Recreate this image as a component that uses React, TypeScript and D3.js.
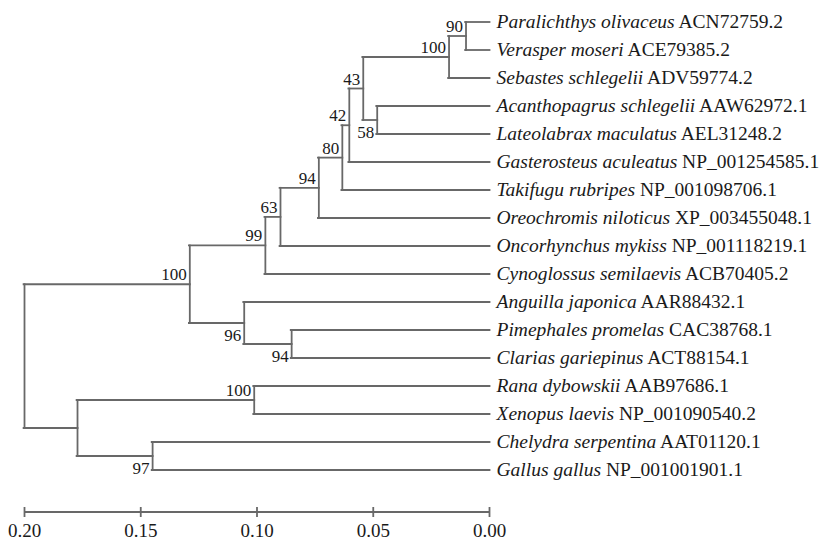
import * as d3 from "d3";
import { useMemo } from "react";

// leaf labels, top to bottom
const species = [
  "Paralichthys olivaceus",
  "Verasper moseri",
  "Sebastes schlegelii",
  "Acanthopagrus schlegelii",
  "Lateolabrax maculatus",
  "Gasterosteus aculeatus",
  "Takifugu rubripes",
  "Oreochromis niloticus",
  "Oncorhynchus mykiss",
  "Cynoglossus semilaevis",
  "Anguilla japonica",
  "Pimephales promelas",
  "Clarias gariepinus",
  "Rana dybowskii",
  "Xenopus laevis",
  "Chelydra serpentina",
  "Gallus gallus",
];
const accessions = [
  "ACN72759.2",
  "ACE79385.2",
  "ADV59774.2",
  "AAW62972.1",
  "AEL31248.2",
  "NP_001254585.1",
  "NP_001098706.1",
  "XP_003455048.1",
  "NP_001118219.1",
  "ACB70405.2",
  "AAR88432.1",
  "CAC38768.1",
  "ACT88154.1",
  "AAB97686.1",
  "NP_001090540.2",
  "AAT01120.1",
  "NP_001001901.1",
];

// internal nodes: L = leaf index, N = node index
const nodeChildren = [
  ["L0", "L1"],
  ["N0", "L2"],
  ["L3", "L4"],
  ["N1", "N2"],
  ["N3", "L5"],
  ["N4", "L6"],
  ["N5", "L7"],
  ["N6", "L8"],
  ["N7", "L9"],
  ["L11", "L12"],
  ["L10", "N9"],
  ["N8", "N10"],
  ["L13", "L14"],
  ["L15", "L16"],
  ["N12", "N13"],
  ["N11", "N14"],
];
// branch heights (distance from tips)
const nodeHeights = [
  0.0101, 0.0174, 0.0483, 0.0543, 0.0603, 0.0633, 0.0734, 0.0899, 0.0964,
  0.0851, 0.1055, 0.1289, 0.1012, 0.1449, 0.1772, 0.2,
];
// bootstrap values
const support = [90, 100, 58, 43, 42, 80, 94, 63, 99, 94, 96, 100, 100, 97, null, null];

const axisTicks = [0.2, 0.15, 0.1, 0.05, 0];

const W = 826;
const H = 540;
const lineColor = "#686868";
const font = "Liberation Serif, Times New Roman, serif";

export default function App() {
  const x = d3.scaleLinear().domain([0.2, 0]).range([24.5, 489.5]);
  const y = d3
    .scalePoint<number>()
    .domain(species.map((_, i) => i))
    .range([22, 470]);

  // y of each node, from its children
  const nodeY = useMemo(() => {
    const ys: number[] = [];
    const getY = (id: string): number => {
      const k = +id.slice(1);
      if (id[0] === "L") return y(k) as number;
      if (ys[k] === undefined) ys[k] = d3.mean(nodeChildren[k], getY) as number;
      return ys[k];
    };
    nodeChildren.forEach((_, k) => getY("N" + k));
    return ys;
  }, []);

  const yOf = (id: string) => (id[0] === "L" ? (y(+id.slice(1)) as number) : nodeY[+id.slice(1)]);
  const hOf = (id: string) => (id[0] === "L" ? 0 : nodeHeights[+id.slice(1)]);

  // label above for the upper child, below for the lower one
  const side: string[] = [];
  nodeChildren.forEach((ch) => {
    if (ch[0][0] === "N") side[+ch[0].slice(1)] = "up";
    if (ch[1][0] === "N") side[+ch[1].slice(1)] = "down";
  });

  const branches: JSX.Element[] = [];
  nodeChildren.forEach((ch, k) => {
    const nx = x(nodeHeights[k]);
    branches.push(
      <line key={"v" + k} x1={nx} x2={nx} y1={yOf(ch[0])} y2={yOf(ch[1])} />
    );
    ch.forEach((c) => {
      branches.push(
        <line key={"h" + k + c} x1={nx - 0.9} x2={x(hOf(c))} y1={yOf(c)} y2={yOf(c)} />
      );
    });
  });

  return (
    <svg
      width={W}
      height={H}
      style={{ position: "absolute", left: 0, top: 0, background: "#fff" }}
      fontFamily={font}
    >
      <g stroke={lineColor} strokeWidth={1.8} strokeLinecap="square">
        {branches}
      </g>

      {support.map((s, k) =>
        s === null ? null : (
          <text
            key={"s" + k}
            x={x(nodeHeights[k]) - 3}
            y={side[k] === "down" ? nodeY[k] + 18 : nodeY[k] - 4}
            textAnchor="end"
            fontSize={17}
            fill="#1a1a1a"
          >
            {s}
          </text>
        )
      )}

      {species.map((sp, i) => (
        <text key={"l" + i} x={x(0) + 7} y={(y(i) as number) + 6} fontSize={19.5} fill="#1a1a1a">
          <tspan fontStyle="italic">{sp}</tspan>
          <tspan> {accessions[i]}</tspan>
        </text>
      ))}

      <g>
        <line x1={x(0.2)} x2={x(0)} y1={512} y2={512} stroke={lineColor} strokeWidth={1.8} />
        {axisTicks.map((t) => (
          <g key={t}>
            <line x1={x(t)} x2={x(t)} y1={507} y2={517} stroke={lineColor} strokeWidth={1.8} />
            <text x={x(t)} y={537} textAnchor="middle" fontSize={19} fill="#1a1a1a">
              {t.toFixed(2)}
            </text>
          </g>
        ))}
      </g>
    </svg>
  );
}
